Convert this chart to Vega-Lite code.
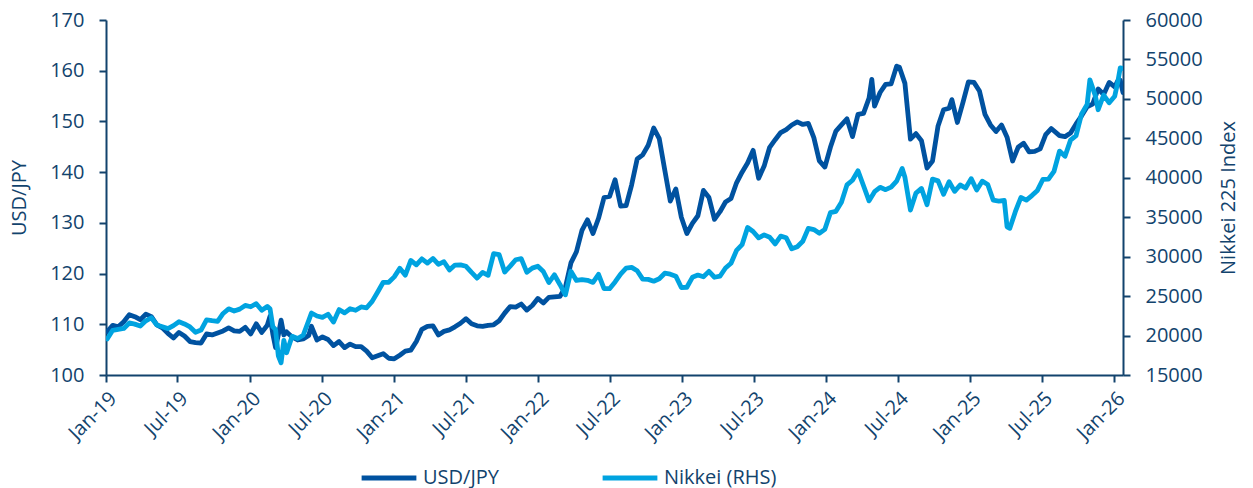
{
  "$schema": "https://vega.github.io/schema/vega-lite/v6.json",
  "autosize": {"type": "none"},
  "width": 1017,
  "height": 355,
  "padding": {"left": 106, "top": 20, "right": 130, "bottom": 113},
  "background": "white",
  "config": {
    "view": {"stroke": null},
    "font": "Open Sans",
    "axis": {"labelFont": "Open Sans", "titleFont": "Open Sans", "labelColor": "#12436D", "titleColor": "#12436D", "domainColor": "#12436D", "tickColor": "#12436D", "domainWidth": 2, "tickWidth": 2, "tickSize": 7, "labelFontSize": 20, "titleFontSize": 20, "titleFontWeight": "normal", "grid": false},
    "legend": {"labelFont": "Open Sans", "labelColor": "#12436D", "labelFontSize": 20}
  },
  "datasets": {
    "usd": [
      {"date": "2019-01-04", "value": 108.5}, {"date": "2019-01-18", "value": 109.8}, {"date": "2019-02-01", "value": 109.5}, {"date": "2019-02-15", "value": 110.5},
      {"date": "2019-03-01", "value": 111.9}, {"date": "2019-03-15", "value": 111.5}, {"date": "2019-03-29", "value": 110.9}, {"date": "2019-04-12", "value": 112.0},
      {"date": "2019-04-26", "value": 111.5}, {"date": "2019-05-10", "value": 109.9}, {"date": "2019-05-24", "value": 109.3}, {"date": "2019-06-07", "value": 108.2},
      {"date": "2019-06-21", "value": 107.3}, {"date": "2019-07-05", "value": 108.4}, {"date": "2019-07-19", "value": 107.7}, {"date": "2019-08-02", "value": 106.6},
      {"date": "2019-08-16", "value": 106.4}, {"date": "2019-08-30", "value": 106.3}, {"date": "2019-09-13", "value": 108.1}, {"date": "2019-09-27", "value": 107.9},
      {"date": "2019-10-11", "value": 108.3}, {"date": "2019-10-25", "value": 108.7}, {"date": "2019-11-08", "value": 109.3}, {"date": "2019-11-22", "value": 108.7},
      {"date": "2019-12-06", "value": 108.6}, {"date": "2019-12-20", "value": 109.4}, {"date": "2020-01-03", "value": 108.1}, {"date": "2020-01-17", "value": 110.1},
      {"date": "2020-01-31", "value": 108.4}, {"date": "2020-02-14", "value": 109.8}, {"date": "2020-02-21", "value": 111.6}, {"date": "2020-02-28", "value": 108.1},
      {"date": "2020-03-06", "value": 105.4}, {"date": "2020-03-13", "value": 107.9}, {"date": "2020-03-20", "value": 110.8}, {"date": "2020-03-27", "value": 107.9},
      {"date": "2020-04-03", "value": 108.5}, {"date": "2020-04-17", "value": 107.5}, {"date": "2020-05-01", "value": 106.9}, {"date": "2020-05-15", "value": 107.1},
      {"date": "2020-05-29", "value": 107.8}, {"date": "2020-06-05", "value": 109.6}, {"date": "2020-06-19", "value": 106.9}, {"date": "2020-07-03", "value": 107.5},
      {"date": "2020-07-17", "value": 107.0}, {"date": "2020-07-31", "value": 105.8}, {"date": "2020-08-14", "value": 106.6}, {"date": "2020-08-28", "value": 105.4},
      {"date": "2020-09-11", "value": 106.1}, {"date": "2020-09-25", "value": 105.6}, {"date": "2020-10-09", "value": 105.6}, {"date": "2020-10-23", "value": 104.7},
      {"date": "2020-11-06", "value": 103.4}, {"date": "2020-11-20", "value": 103.8}, {"date": "2020-12-04", "value": 104.2}, {"date": "2020-12-18", "value": 103.3},
      {"date": "2021-01-01", "value": 103.2}, {"date": "2021-01-15", "value": 103.9}, {"date": "2021-01-29", "value": 104.7}, {"date": "2021-02-12", "value": 104.9},
      {"date": "2021-02-26", "value": 106.6}, {"date": "2021-03-12", "value": 109.0}, {"date": "2021-03-26", "value": 109.6}, {"date": "2021-04-09", "value": 109.7},
      {"date": "2021-04-23", "value": 107.9}, {"date": "2021-05-07", "value": 108.6}, {"date": "2021-05-21", "value": 108.9}, {"date": "2021-06-04", "value": 109.5},
      {"date": "2021-06-18", "value": 110.2}, {"date": "2021-07-02", "value": 111.1}, {"date": "2021-07-16", "value": 110.1}, {"date": "2021-07-30", "value": 109.7},
      {"date": "2021-08-13", "value": 109.6}, {"date": "2021-08-27", "value": 109.8}, {"date": "2021-09-10", "value": 109.9}, {"date": "2021-09-24", "value": 110.7},
      {"date": "2021-10-08", "value": 112.2}, {"date": "2021-10-22", "value": 113.5}, {"date": "2021-11-05", "value": 113.4}, {"date": "2021-11-19", "value": 114.0},
      {"date": "2021-12-03", "value": 112.8}, {"date": "2021-12-17", "value": 113.7}, {"date": "2021-12-31", "value": 115.1}, {"date": "2022-01-14", "value": 114.2},
      {"date": "2022-01-28", "value": 115.3}, {"date": "2022-02-11", "value": 115.4}, {"date": "2022-02-25", "value": 115.5}, {"date": "2022-03-11", "value": 117.3},
      {"date": "2022-03-25", "value": 122.1}, {"date": "2022-04-08", "value": 124.3}, {"date": "2022-04-22", "value": 128.5}, {"date": "2022-05-06", "value": 130.6},
      {"date": "2022-05-20", "value": 127.9}, {"date": "2022-06-03", "value": 130.9}, {"date": "2022-06-17", "value": 135.0}, {"date": "2022-07-01", "value": 135.2},
      {"date": "2022-07-15", "value": 138.5}, {"date": "2022-07-29", "value": 133.3}, {"date": "2022-08-12", "value": 133.4}, {"date": "2022-08-26", "value": 137.5},
      {"date": "2022-09-09", "value": 142.6}, {"date": "2022-09-23", "value": 143.4}, {"date": "2022-10-07", "value": 145.3}, {"date": "2022-10-21", "value": 148.7},
      {"date": "2022-11-04", "value": 146.6}, {"date": "2022-11-18", "value": 140.4}, {"date": "2022-12-02", "value": 134.3}, {"date": "2022-12-16", "value": 136.7},
      {"date": "2022-12-30", "value": 131.1}, {"date": "2023-01-13", "value": 127.9}, {"date": "2023-01-27", "value": 129.9}, {"date": "2023-02-10", "value": 131.4},
      {"date": "2023-02-24", "value": 136.4}, {"date": "2023-03-10", "value": 135.0}, {"date": "2023-03-24", "value": 130.7}, {"date": "2023-04-07", "value": 132.2},
      {"date": "2023-04-21", "value": 134.1}, {"date": "2023-05-05", "value": 134.8}, {"date": "2023-05-19", "value": 137.9}, {"date": "2023-06-02", "value": 140.0},
      {"date": "2023-06-16", "value": 141.8}, {"date": "2023-06-30", "value": 144.3}, {"date": "2023-07-14", "value": 138.8}, {"date": "2023-07-28", "value": 141.2},
      {"date": "2023-08-11", "value": 144.9}, {"date": "2023-08-25", "value": 146.4}, {"date": "2023-09-08", "value": 147.8}, {"date": "2023-09-22", "value": 148.4},
      {"date": "2023-10-06", "value": 149.3}, {"date": "2023-10-20", "value": 149.9}, {"date": "2023-11-03", "value": 149.4}, {"date": "2023-11-17", "value": 149.6},
      {"date": "2023-12-01", "value": 146.8}, {"date": "2023-12-15", "value": 142.2}, {"date": "2023-12-29", "value": 141.0}, {"date": "2024-01-12", "value": 144.9},
      {"date": "2024-01-26", "value": 148.1}, {"date": "2024-02-09", "value": 149.3}, {"date": "2024-02-23", "value": 150.5}, {"date": "2024-03-08", "value": 147.0},
      {"date": "2024-03-22", "value": 151.4}, {"date": "2024-04-05", "value": 151.6}, {"date": "2024-04-19", "value": 154.6}, {"date": "2024-04-26", "value": 158.3},
      {"date": "2024-05-03", "value": 153.0}, {"date": "2024-05-17", "value": 155.7}, {"date": "2024-05-31", "value": 157.3}, {"date": "2024-06-14", "value": 157.4},
      {"date": "2024-06-28", "value": 160.9}, {"date": "2024-07-05", "value": 160.7}, {"date": "2024-07-19", "value": 157.5}, {"date": "2024-08-02", "value": 146.5},
      {"date": "2024-08-16", "value": 147.6}, {"date": "2024-08-30", "value": 146.2}, {"date": "2024-09-13", "value": 140.8}, {"date": "2024-09-27", "value": 142.2},
      {"date": "2024-10-11", "value": 149.1}, {"date": "2024-10-25", "value": 152.3}, {"date": "2024-11-08", "value": 152.6}, {"date": "2024-11-15", "value": 154.3},
      {"date": "2024-11-29", "value": 149.8}, {"date": "2024-12-13", "value": 153.7}, {"date": "2024-12-27", "value": 157.8}, {"date": "2025-01-10", "value": 157.7},
      {"date": "2025-01-24", "value": 156.0}, {"date": "2025-02-07", "value": 151.4}, {"date": "2025-02-21", "value": 149.3}, {"date": "2025-03-07", "value": 148.0},
      {"date": "2025-03-21", "value": 149.3}, {"date": "2025-04-04", "value": 146.9}, {"date": "2025-04-18", "value": 142.2}, {"date": "2025-05-02", "value": 144.9},
      {"date": "2025-05-16", "value": 145.7}, {"date": "2025-05-30", "value": 144.0}, {"date": "2025-06-13", "value": 144.1}, {"date": "2025-06-27", "value": 144.6},
      {"date": "2025-07-11", "value": 147.4}, {"date": "2025-07-25", "value": 148.6}, {"date": "2025-08-15", "value": 147.2}, {"date": "2025-08-29", "value": 147.0},
      {"date": "2025-09-12", "value": 147.7}, {"date": "2025-09-26", "value": 149.5}, {"date": "2025-10-10", "value": 151.1}, {"date": "2025-10-24", "value": 152.9},
      {"date": "2025-11-07", "value": 153.4}, {"date": "2025-11-21", "value": 156.4}, {"date": "2025-12-05", "value": 155.3}, {"date": "2025-12-19", "value": 157.7},
      {"date": "2026-01-02", "value": 156.8}, {"date": "2026-01-09", "value": 157.9}, {"date": "2026-01-16", "value": 158.1}, {"date": "2026-01-23", "value": 155.7}
    ],
    "nikkei": [
      {"date": "2019-01-04", "value": 19560}, {"date": "2019-01-18", "value": 20670}, {"date": "2019-02-01", "value": 20790}, {"date": "2019-02-15", "value": 20900},
      {"date": "2019-03-01", "value": 21600}, {"date": "2019-03-15", "value": 21450}, {"date": "2019-03-29", "value": 21200}, {"date": "2019-04-12", "value": 21870},
      {"date": "2019-04-26", "value": 22260}, {"date": "2019-05-10", "value": 21340}, {"date": "2019-05-24", "value": 21120}, {"date": "2019-06-07", "value": 20880},
      {"date": "2019-06-21", "value": 21260}, {"date": "2019-07-05", "value": 21750}, {"date": "2019-07-19", "value": 21470}, {"date": "2019-08-02", "value": 21090},
      {"date": "2019-08-16", "value": 20420}, {"date": "2019-08-30", "value": 20700}, {"date": "2019-09-13", "value": 21990}, {"date": "2019-09-27", "value": 21880},
      {"date": "2019-10-11", "value": 21800}, {"date": "2019-10-25", "value": 22800}, {"date": "2019-11-08", "value": 23390}, {"date": "2019-11-22", "value": 23110},
      {"date": "2019-12-06", "value": 23350}, {"date": "2019-12-20", "value": 23820}, {"date": "2020-01-03", "value": 23650}, {"date": "2020-01-17", "value": 24040},
      {"date": "2020-01-31", "value": 23200}, {"date": "2020-02-14", "value": 23690}, {"date": "2020-02-21", "value": 23390}, {"date": "2020-02-28", "value": 21140},
      {"date": "2020-03-06", "value": 20750}, {"date": "2020-03-13", "value": 17430}, {"date": "2020-03-20", "value": 16550}, {"date": "2020-03-27", "value": 19390},
      {"date": "2020-04-03", "value": 17820}, {"date": "2020-04-17", "value": 19900}, {"date": "2020-05-01", "value": 19620}, {"date": "2020-05-15", "value": 20040},
      {"date": "2020-05-29", "value": 21880}, {"date": "2020-06-05", "value": 22860}, {"date": "2020-06-19", "value": 22480}, {"date": "2020-07-03", "value": 22310},
      {"date": "2020-07-17", "value": 22700}, {"date": "2020-07-31", "value": 21710}, {"date": "2020-08-14", "value": 23290}, {"date": "2020-08-28", "value": 22880},
      {"date": "2020-09-11", "value": 23400}, {"date": "2020-09-25", "value": 23200}, {"date": "2020-10-09", "value": 23620}, {"date": "2020-10-23", "value": 23520},
      {"date": "2020-11-06", "value": 24330}, {"date": "2020-11-20", "value": 25530}, {"date": "2020-12-04", "value": 26750}, {"date": "2020-12-18", "value": 26760},
      {"date": "2021-01-01", "value": 27440}, {"date": "2021-01-15", "value": 28520}, {"date": "2021-01-29", "value": 27660}, {"date": "2021-02-12", "value": 29520},
      {"date": "2021-02-26", "value": 28970}, {"date": "2021-03-12", "value": 29720}, {"date": "2021-03-26", "value": 29180}, {"date": "2021-04-09", "value": 29770},
      {"date": "2021-04-23", "value": 29020}, {"date": "2021-05-07", "value": 29360}, {"date": "2021-05-21", "value": 28320}, {"date": "2021-06-04", "value": 28940},
      {"date": "2021-06-18", "value": 28960}, {"date": "2021-07-02", "value": 28780}, {"date": "2021-07-16", "value": 28000}, {"date": "2021-07-30", "value": 27280},
      {"date": "2021-08-13", "value": 28000}, {"date": "2021-08-27", "value": 27640}, {"date": "2021-09-10", "value": 30380}, {"date": "2021-09-24", "value": 30250},
      {"date": "2021-10-08", "value": 28050}, {"date": "2021-10-22", "value": 28800}, {"date": "2021-11-05", "value": 29610}, {"date": "2021-11-19", "value": 29750},
      {"date": "2021-12-03", "value": 28030}, {"date": "2021-12-17", "value": 28550}, {"date": "2021-12-31", "value": 28790}, {"date": "2022-01-14", "value": 28120},
      {"date": "2022-01-28", "value": 26720}, {"date": "2022-02-11", "value": 27700}, {"date": "2022-02-25", "value": 26480}, {"date": "2022-03-11", "value": 25160},
      {"date": "2022-03-25", "value": 28150}, {"date": "2022-04-08", "value": 26990}, {"date": "2022-04-22", "value": 27100}, {"date": "2022-05-06", "value": 27000},
      {"date": "2022-05-20", "value": 26740}, {"date": "2022-06-03", "value": 27760}, {"date": "2022-06-17", "value": 25960}, {"date": "2022-07-01", "value": 25940},
      {"date": "2022-07-15", "value": 26790}, {"date": "2022-07-29", "value": 27800}, {"date": "2022-08-12", "value": 28550}, {"date": "2022-08-26", "value": 28640},
      {"date": "2022-09-09", "value": 28210}, {"date": "2022-09-23", "value": 27150}, {"date": "2022-10-07", "value": 27120}, {"date": "2022-10-21", "value": 26890},
      {"date": "2022-11-04", "value": 27200}, {"date": "2022-11-18", "value": 27900}, {"date": "2022-12-02", "value": 27780}, {"date": "2022-12-16", "value": 27530},
      {"date": "2022-12-30", "value": 26090}, {"date": "2023-01-13", "value": 26120}, {"date": "2023-01-27", "value": 27380}, {"date": "2023-02-10", "value": 27670},
      {"date": "2023-02-24", "value": 27450}, {"date": "2023-03-10", "value": 28140}, {"date": "2023-03-24", "value": 27390}, {"date": "2023-04-07", "value": 27520},
      {"date": "2023-04-21", "value": 28560}, {"date": "2023-05-05", "value": 29160}, {"date": "2023-05-19", "value": 30800}, {"date": "2023-06-02", "value": 31520},
      {"date": "2023-06-16", "value": 33700}, {"date": "2023-06-30", "value": 33190}, {"date": "2023-07-14", "value": 32390}, {"date": "2023-07-28", "value": 32760},
      {"date": "2023-08-11", "value": 32470}, {"date": "2023-08-25", "value": 31620}, {"date": "2023-09-08", "value": 32600}, {"date": "2023-09-22", "value": 32400},
      {"date": "2023-10-06", "value": 30990}, {"date": "2023-10-20", "value": 31260}, {"date": "2023-11-03", "value": 31950}, {"date": "2023-11-17", "value": 33590},
      {"date": "2023-12-01", "value": 33430}, {"date": "2023-12-15", "value": 32970}, {"date": "2023-12-29", "value": 33460}, {"date": "2024-01-12", "value": 35580},
      {"date": "2024-01-26", "value": 35750}, {"date": "2024-02-09", "value": 36900}, {"date": "2024-02-23", "value": 39100}, {"date": "2024-03-08", "value": 39690},
      {"date": "2024-03-22", "value": 40890}, {"date": "2024-04-05", "value": 38990}, {"date": "2024-04-19", "value": 37070}, {"date": "2024-05-03", "value": 38240},
      {"date": "2024-05-17", "value": 38790}, {"date": "2024-05-31", "value": 38490}, {"date": "2024-06-14", "value": 38810}, {"date": "2024-06-28", "value": 39580},
      {"date": "2024-07-12", "value": 41190}, {"date": "2024-07-19", "value": 40060}, {"date": "2024-08-02", "value": 35910}, {"date": "2024-08-16", "value": 38060},
      {"date": "2024-08-30", "value": 38650}, {"date": "2024-09-13", "value": 36580}, {"date": "2024-09-27", "value": 39830}, {"date": "2024-10-11", "value": 39610},
      {"date": "2024-10-25", "value": 37910}, {"date": "2024-11-08", "value": 39500}, {"date": "2024-11-22", "value": 38280}, {"date": "2024-12-06", "value": 39090},
      {"date": "2024-12-20", "value": 38700}, {"date": "2025-01-03", "value": 39890}, {"date": "2025-01-17", "value": 38450}, {"date": "2025-01-31", "value": 39570},
      {"date": "2025-02-14", "value": 39150}, {"date": "2025-02-28", "value": 37160}, {"date": "2025-03-14", "value": 37050}, {"date": "2025-03-28", "value": 37120},
      {"date": "2025-04-04", "value": 33780}, {"date": "2025-04-11", "value": 33590}, {"date": "2025-04-25", "value": 35700}, {"date": "2025-05-09", "value": 37500},
      {"date": "2025-05-23", "value": 37160}, {"date": "2025-06-06", "value": 37740}, {"date": "2025-06-20", "value": 38400}, {"date": "2025-07-04", "value": 39810},
      {"date": "2025-07-18", "value": 39820}, {"date": "2025-08-01", "value": 40800}, {"date": "2025-08-15", "value": 43380}, {"date": "2025-08-29", "value": 42720},
      {"date": "2025-09-12", "value": 44770}, {"date": "2025-09-26", "value": 45350}, {"date": "2025-10-10", "value": 48090}, {"date": "2025-10-24", "value": 49300},
      {"date": "2025-10-31", "value": 52410}, {"date": "2025-11-14", "value": 50380}, {"date": "2025-11-21", "value": 48630}, {"date": "2025-12-05", "value": 50490},
      {"date": "2025-12-19", "value": 49500}, {"date": "2026-01-02", "value": 50340}, {"date": "2026-01-09", "value": 51940}, {"date": "2026-01-16", "value": 53940},
      {"date": "2026-01-23", "value": 53850}
    ]
  },
  "encoding": {
    "x": {
      "field": "date", "type": "temporal",
      "scale": {"type": "utc", "domain": [{"year": 2019, "month": 1, "date": 1, "utc": true}, {"year": 2026, "month": 1, "date": 23, "utc": true}]},
      "axis": {
        "title": null, "labelAngle": -45, "labelPadding": 6,
        "values": [
          {"year": 2019, "month": 1, "date": 1, "utc": true}, {"year": 2019, "month": 7, "date": 1, "utc": true},
          {"year": 2020, "month": 1, "date": 1, "utc": true}, {"year": 2020, "month": 7, "date": 1, "utc": true},
          {"year": 2021, "month": 1, "date": 1, "utc": true}, {"year": 2021, "month": 7, "date": 1, "utc": true},
          {"year": 2022, "month": 1, "date": 1, "utc": true}, {"year": 2022, "month": 7, "date": 1, "utc": true},
          {"year": 2023, "month": 1, "date": 1, "utc": true}, {"year": 2023, "month": 7, "date": 1, "utc": true},
          {"year": 2024, "month": 1, "date": 1, "utc": true}, {"year": 2024, "month": 7, "date": 1, "utc": true},
          {"year": 2025, "month": 1, "date": 1, "utc": true}, {"year": 2025, "month": 7, "date": 1, "utc": true},
          {"year": 2026, "month": 1, "date": 1, "utc": true}
        ],
        "labelExpr": "utcFormat(datum.value, '%b-%y')",
        "labelFlush": false, "labelOverlap": false
      }
    },
    "color": {
      "datum": "USD/JPY", "type": "nominal",
      "scale": {"domain": ["USD/JPY", "Nikkei (RHS)"], "range": ["#0052A0", "#00A3E0"]},
      "legend": {"title": null, "orient": "none", "legendX": 253, "legendY": 428, "direction": "horizontal", "symbolType": "stroke", "symbolSize": 3000, "symbolStrokeWidth": 5, "labelOffset": 4, "columnPadding": 93, "labelLimit": 300}
    }
  },
  "layer": [
    {
      "data": {"name": "usd"},
      "mark": {"type": "line", "strokeWidth": 4.8, "strokeJoin": "round", "strokeCap": "round", "clip": true},
      "encoding": {
        "y": {"field": "value", "type": "quantitative", "scale": {"domain": [100, 170], "nice": false, "zero": false},
          "axis": {"title": "USD/JPY", "values": [100, 110, 120, 130, 140, 150, 160, 170], "labelPadding": 15, "titlePadding": 20}}
      }
    },
    {
      "data": {"name": "nikkei"},
      "mark": {"type": "line", "strokeWidth": 4.8, "strokeJoin": "round", "strokeCap": "round", "clip": true},
      "encoding": {
        "y": {"field": "value", "type": "quantitative", "scale": {"domain": [15000, 60000], "nice": false, "zero": false},
          "axis": {"orient": "right", "title": "Nikkei 225 Index", "titleAngle": -90, "titleBaseline": "top", "format": "d", "values": [15000, 20000, 25000, 30000, 35000, 40000, 45000, 50000, 55000, 60000], "labelPadding": 15, "titlePadding": 16}},
        "color": {"datum": "Nikkei (RHS)", "type": "nominal"}
      }
    }
  ],
  "resolve": {"scale": {"y": "independent"}}
}
